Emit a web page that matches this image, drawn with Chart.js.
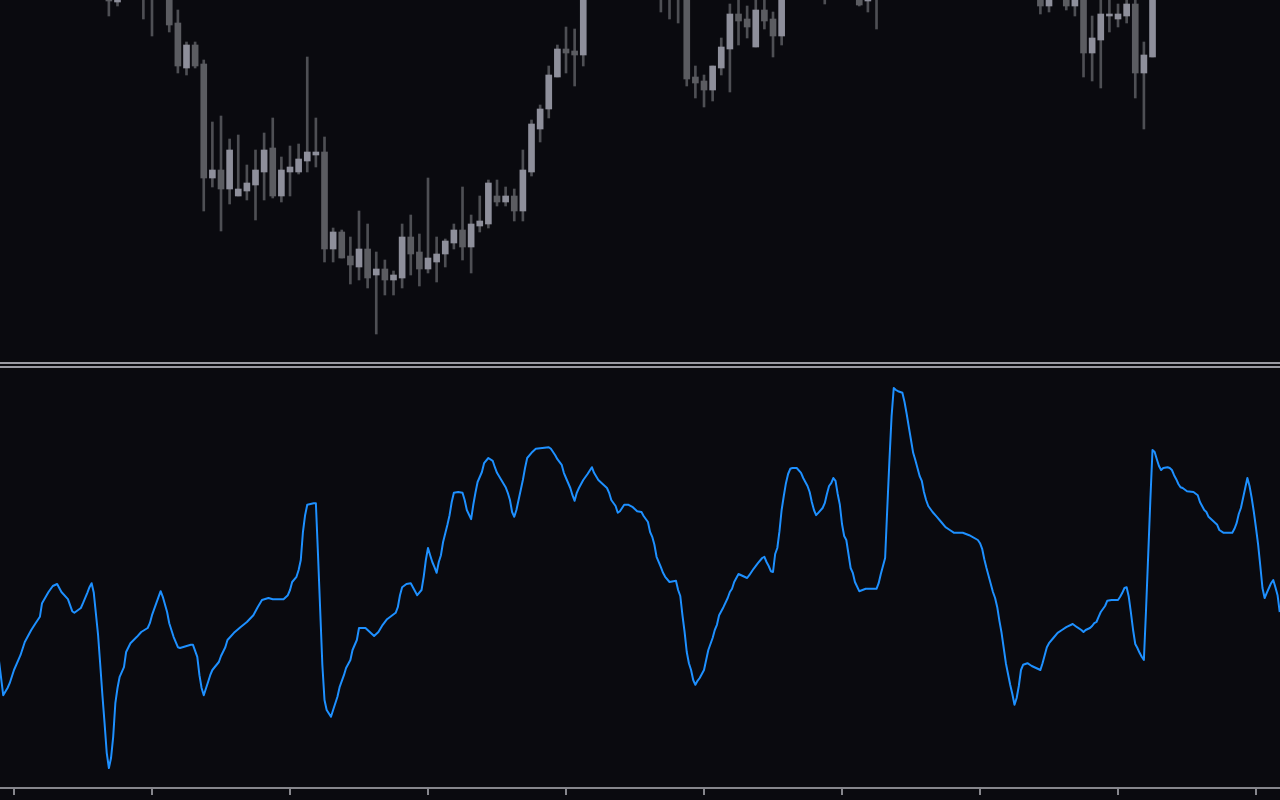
<!DOCTYPE html>
<html>
<head>
<meta charset="utf-8">
<script src="https://cdn.jsdelivr.net/npm/chart.js@4.4.1/dist/chart.umd.min.js"></script>
<style>
html,body{margin:0;padding:0;background:#0a0a0f;overflow:hidden;width:1280px;height:800px;}
#top{position:absolute;left:0;top:0;width:1280px;height:368px;}
#bot{position:absolute;left:0;top:368px;width:1280px;height:432px;}
</style>
</head>
<body>
<div id="top"><canvas id="c1"></canvas></div>
<div id="bot"><canvas id="c2"></canvas></div>
<script>
// ---- Candles (bar number, OHLC in price units) ----
const barNo = [11,12,15,16,18,19,20,21,22,23,24,25,26,27,28,29,30,31,32,33,34,35,36,37,38,39,40,41,42,43,44,45,46,47,48,49,50,51,52,53,54,55,56,57,58,59,60,61,62,63,64,65,66,75,76,77,78,79,80,81,82,83,84,85,86,87,88,89,94,98,99,100,119,120,122,123,124,125,126,127,128,129,130,131,132];
const openP = [364,358,380,362,380,337,292,315,296,182,190,171,164,169,175,188,212,164,188,188,199,205,208,111,128,104,93,111,85,91,80,82,123,108,91,98,106,117,130,113,134,136,164,158,164,149,188,231,251,283,311,309,305,385,380,375,370,283,279,270,292,311,346,341,313,350,341,324,370,364,359,370,368,354,368,354,370,307,320,344,341,344,356,287,303];
const highP = [370,368,390,385,388,350,318,318,300,238,244,221,225,195,210,227,242,203,214,216,303,242,223,132,130,123,149,136,108,100,89,136,145,126,182,123,121,136,173,145,164,180,180,173,171,210,240,255,294,315,333,331,390,390,386,380,378,294,285,294,322,356,365,354,365,365,348,376,375,368,368,375,372,372,372,372,376,344,365,365,356,365,365,318,390];
const lowP  = [344,354,341,324,328,287,285,292,149,173,129,156,164,160,140,160,162,158,164,186,188,193,98,98,102,76,80,72,26,65,65,72,85,74,87,78,93,111,100,87,128,132,154,154,139,139,184,218,242,283,287,274,294,348,341,337,274,262,253,259,285,268,315,322,313,331,303,315,356,354,348,331,346,348,350,344,283,279,272,328,333,337,262,231,303];
const closeP = [359,363,364,375,335,294,315,294,182,190,171,210,171,177,190,210,164,190,193,201,208,208,111,128,102,95,111,82,91,80,85,123,106,91,102,106,119,130,113,136,139,177,158,164,149,190,236,251,285,311,307,305,380,365,363,362,281,277,270,294,313,346,339,333,350,339,324,370,362,355,363,362,354,368,354,368,307,322,346,346,346,356,287,305,380];

// ---- Oscillator (4 samples per bar) ----
const lineSample = [-7,-5,-3,-2,0,3,5,8,10,12,13,16,18,20,22,25,27,28,31,32,34,35,36,37,39,40,41,42,43,44,45,46,47,48,49,51,52,54,57,59,62,63,64,66,68,69,71,72,74,76,77,82,83,85,86,87,88,90,91,92,95,96,98,99,102,105,108,111,113,115,118,120,125,127,128,129,131,132,133,134,135,136,139,140,141,142,143,144,145,147,148,150,151,153,154,156,157,159,160,163,165,167,169,171,173,175,177,178,179,180,182,184,186,187,189,190,191,192,193,194,195,196,197,198,199,201,202,203,204,206,208,209,210,212,213,214,215,217,218,220,222,223,224,226,228,229,230,231,232,233,234,235,236,237,238,240,242,245,248,249,251,252,254,255,256,258,259,260,261,262,264,266,268,269,271,273,275,276,277,279,280,281,283,285,287,289,291,292,294,295,296,297,298,300,301,302,304,307,308,309,310,311,312,313,314,315,316,317,318,320,321,322,324,325,326,327,329,331,332,333,334,336,338,340,341,343,345,347,348,349,350,351,352,353,354,355,356,357,358,359,360,361,363,365,366,368,369,370,371,372,373,375,376,377,378,379,380,381,382,383,384,385,386,387,388,389,390,392,395,400,401,402,403,404,405,406,407,408,409,410,412,413,414,415,416,417,418,419,420,421,422,423,424,426,428,430,432,434,436,440,443,447,448,449,450,451,452,453,454,455,456,457,458,459,460,461,462,463,464,465,466,467,468,470,472,474,476,477,478,479,480,482,484,486,488,491,493,495,496,497,499,500,501,502,503,504,506,507,509,512,513,514,515,516,517,518,519,520,521,522,523,524,525,526,527,528,529,530,531,532,533,535,536,537,538,539,540,541,542,544,547,549,550,551,552,553,554,556,558,559,561,565,566,567,568,569,570,571,572,573,574,575,576,577,578,579,580,581,582,583,584,585,586,587];
const lineValue = [32,23.2,25,26.2,29.5,33.2,36.5,39.5,41.2,42.8,46.2,49,50.5,51,49,47.2,44.2,43.8,45,46.2,48.8,50.2,51.2,48.8,38.2,30.8,23.2,16.2,8.8,5,7.5,12.8,21.2,25,27.8,30.2,34,36.2,37.8,39,40,41.2,43.2,46.2,49.2,47.8,44,41.2,37.8,35.2,35,35.8,35.8,32.8,28.2,25,23.2,26.5,28.2,29.5,31.5,33,35.2,37,38.8,40.2,41.5,43.2,45.2,47,47.5,47.2,47.2,48.2,49.5,51.5,52.8,54.5,57,64,68.2,70.8,71.2,71.2,58.2,44.5,30.8,22,19.5,17.8,19.5,22.8,25.2,28.2,30,32,34.5,37,40,40,39,38,39,40.8,42.2,43,43.8,45.2,48.2,50.2,51,51.2,49.2,48.2,49.5,52.8,57,60,58.2,56.5,55.2,53.8,56.5,58.2,61.5,65.8,68.2,71.5,73.8,74,73.8,72,69.5,67.2,70.8,73.8,76.5,79,81.2,82.5,81.8,80.2,78.8,77,75.2,73.8,72,69,67.8,69.5,72,74.5,77,80,82.5,83.8,84.8,85,85.2,84.8,83.2,82.2,80.8,78.8,77.5,75,73.2,71.8,73.8,75,77,78.5,80.2,78.8,77,76,75,73.8,72,70.5,68.8,69.2,70.8,70.8,70.2,69.2,69,68,66.5,64,62.8,60.8,57.8,55.2,53.8,52.8,51.5,51.8,49.5,48,43.2,39,34,31.2,29.5,27,25.8,26.8,27.5,29.5,32,34.5,37.5,39.5,40.8,43.2,45.2,47.5,49,49.8,51.5,53.5,53,52.5,53.2,54.8,56.2,57.5,57.8,56.5,55.5,54.2,54,58.5,60,64.2,69.5,73,76.2,78.5,79.8,80,80,78.8,77.5,75.5,74,71.5,69.5,68.2,68.8,70,71.2,73.5,75.5,76.2,77.5,76.8,73.5,70.8,66,63,62,58.5,55,53.8,51.5,49.2,49.8,49.8,51.2,53.5,55.5,57.5,70,82,93,100,99.5,99.2,98.8,96.5,93.5,90.2,87,83.8,82,80,78,76.8,74,72,70.5,69,67.8,66.5,65.2,64.5,63.8,63.8,63.2,62,61.2,59.8,57.2,55,53,51,49,47.5,45.2,41.8,38.8,35,31.2,28.5,25.8,23.5,20.8,22.5,25.5,29.5,30.8,31.2,30.5,30,29.5,31.2,33.2,35.2,36.2,37.5,38.8,39.5,40.2,41,40.2,39.5,39,39.5,40,40.5,41.2,41.5,42.8,44,45.5,46.8,47,47,47.8,48.8,50,50.2,47.8,43.8,39.5,36,35,33.8,32.8,32,44.5,58.2,72,84.5,84,82.2,80.5,79.5,80,80.2,80,79.5,78.2,77.2,76,75.2,75,74.2,74,73.2,71.5,70.5,69.5,69,67.8,66.8,65.8,64.5,63.8,63.8,64.8,66.2,68.5,70,72.5,75,77.5,75.5,72.5,69,65,60.8,55.5,50,47.5,48.8,50,51.2,52,50.2,48.2,44];

// x-axis ticks every 16 bars (64 samples)
const tickSamples = [0,64,128,192,256,320,384,448,512,576];

const BULL = '#8e8f9b', BEAR = '#5b5c61', WICK = '#4e4f54';

const bodies = barNo.map((b,i)=>({x:b, y:[openP[i], closeP[i]]}));
const wicks = barNo.map((b,i)=>({x:b, y:[lowP[i], highP[i]]}));

const separator = {
  id:'separator',
  afterDraw(chart){
    const {ctx, width, chartArea} = chart;
    ctx.save();
    ctx.fillStyle = '#9a9aa2';
    ctx.fillRect(0, chartArea.bottom + 2, width, 2);
    ctx.fillRect(0, chartArea.bottom + 6, width, 2);
    ctx.restore();
  }
};

new Chart(document.getElementById('c1'), {
  type:'bar',
  data:{datasets:[
    {data:bodies, backgroundColor:c=>closeP[c.dataIndex] >= openP[c.dataIndex] ? BULL : BEAR,
     barThickness:6, minBarLength:2, grouped:false, order:0, borderWidth:0},
    {data:wicks, backgroundColor:WICK, barThickness:2, grouped:false, order:1, borderWidth:0}
  ]},
  options:{
    animation:false, responsive:true, maintainAspectRatio:false, events:[],
    layout:{padding:{left:0,right:0,top:0,bottom:8}},
    plugins:{legend:{display:false}, tooltip:{enabled:false}},
    scales:{
      x:{type:'linear', min:-1.6232, max:146.78, offset:false, bounds:'ticks', display:false},
      y:{min:0, max:360, display:false}
    }
  },
  plugins:[separator]
});

new Chart(document.getElementById('c2'), {
  type:'line',
  data:{datasets:[{
    data:lineSample.map((s,i)=>({x:s, y:lineValue[i]})),
    borderColor:'#1e90ff', borderWidth:2, pointRadius:0, tension:0, fill:false,
    borderJoinStyle:'round'
  }]},
  options:{
    animation:false, responsive:true, maintainAspectRatio:false, events:[],
    layout:{padding:{left:0,right:0,top:0,bottom:5}},
    plugins:{legend:{display:false}, tooltip:{enabled:false}},
    scales:{
      x:{type:'linear', min:-6.493, max:587.13,
         afterBuildTicks:s=>{ s.ticks = tickSamples.map(v=>({value:v})); },
         grid:{display:true, drawOnChartArea:false, drawTicks:true, tickLength:7, color:'#86868c', lineWidth:2},
         border:{display:true, color:'#86868c', width:2},
         ticks:{display:false}},
      y:{min:0, max:105, display:false}
    }
  }
});
</script>
</body>
</html>
